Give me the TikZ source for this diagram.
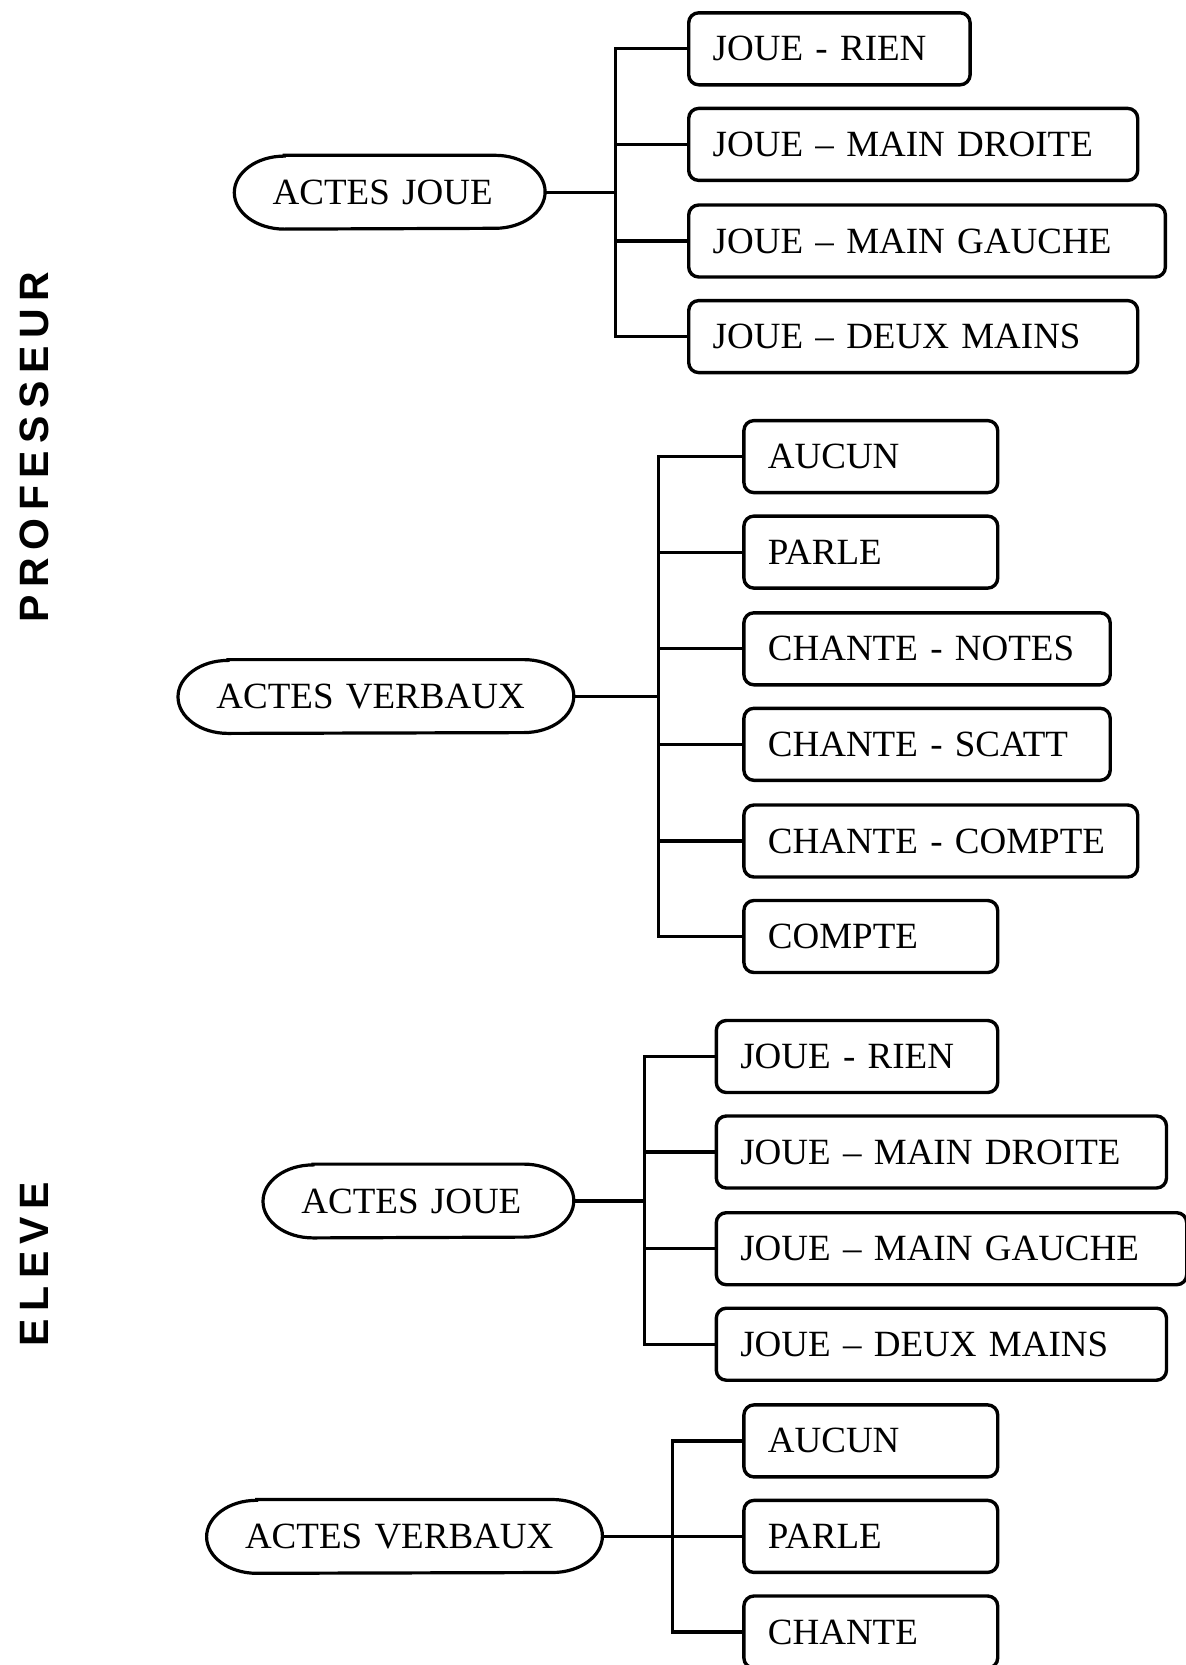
\documentclass[tikz,border=0pt]{standalone}
\usepackage{fontspec}
\setmainfont{Liberation Serif}
\newfontfamily\labelfont{Liberation Sans}
\newcommand\lspc{\kern3.75pt}
\newcommand\pilloutline[1]{%
  \draw[link] ([xshift=25pt]#1.north west) -- ([xshift=-25pt]#1.north east)
    arc[start angle=90,end angle=-90,x radius=25pt,y radius=18.25pt]
    -- ([xshift=25pt]#1.south west)
    arc[start angle=270,end angle=90,x radius=25pt,y radius=18.25pt] -- cycle;}
\begin{document}
\begin{tikzpicture}[x=0.5pt,y=0.5pt,
  txt/.style={font=\fontsize{18.5pt}{22pt}\selectfont},
  box/.style={txt, draw, line width=1.7pt, rounded corners=5pt, anchor=west,
    minimum height=36pt, inner xsep=12pt, inner ysep=0pt, text width=#1, align=left},
  pill/.style={txt, anchor=center, minimum height=36.5pt, inner xsep=19pt,
    inner ysep=0pt, text width=#1, align=left},
  link/.style={line width=1.6pt},
  side/.style={rotate=90, font=\labelfont\bfseries\fontsize{20.5pt}{24pt}\selectfont}
]
\useasboundingbox (0,0) rectangle (1186,-1665);

% side labels
\node[side] (prof) at (34,-447) {P\lspc R\lspc O\lspc F\lspc E\lspc S\lspc S\lspc E\lspc U\lspc R};
\node[side] (elev) at (34,-1264) {E\lspc L\lspc E\lspc V\lspc E};

% ---------- Section 1 : PROFESSEUR / ACTES JOUE
\node[pill=117pt] (a1) at (389.7,-192.2) {ACTES JOUE};
\pilloutline{a1}
\coordinate (j1) at (615.8,-192.2);
\node[box=116.7pt] (b11) at (687,-48.8) {JOUE - RIEN};
\node[box=200.5pt] (b12) at (687,-144.4) {JOUE – MAIN DROITE};
\node[box=214.35pt] (b13) at (687,-241) {JOUE – MAIN GAUCHE};
\node[box=200.5pt] (b14) at (687,-336.6) {JOUE – DEUX MAINS};
\draw[link] (a1.east) -- (j1);
\foreach \b in {b11,b12,b13,b14} \draw[link] (j1) |- (\b.west);

% ---------- Section 2 : PROFESSEUR / ACTES VERBAUX
\node[pill=159.5pt] (a2) at (375.9,-696.5) {ACTES VERBAUX};
\pilloutline{a2}
\coordinate (j2) at (658.3,-696.5);
\node[box=102.9pt] (b21) at (742.2,-456.6) {AUCUN};
\node[box=102.9pt] (b22) at (742.2,-552.1) {PARLE};
\node[box=159.15pt] (b23) at (742.2,-648.8) {CHANTE - NOTES};
\node[box=159.15pt] (b24) at (742.2,-744.3) {CHANTE - SCATT};
\node[box=172.9pt] (b25) at (742.2,-841) {CHANTE - COMPTE};
\node[box=102.9pt] (b26) at (742.2,-936.5) {COMPTE};
\draw[link] (a2.east) -- (j2);
\foreach \b in {b21,b22,b23,b24,b25,b26} \draw[link] (j2) |- (\b.west);

% ---------- Section 3 : ELEVE / ACTES JOUE
\node[pill=117pt] (a3) at (418.4,-1201) {ACTES JOUE};
\pilloutline{a3}
\coordinate (j3) at (644.5,-1201);
\node[box=116.7pt] (b31) at (714.6,-1056.5) {JOUE - RIEN};
\node[box=201.1pt] (b32) at (714.6,-1152) {JOUE – MAIN DROITE};
\node[box=211.2pt] (b33) at (714.6,-1248.7) {JOUE – MAIN GAUCHE};
\node[box=201.1pt] (b34) at (714.6,-1344.2) {JOUE – DEUX MAINS};
\draw[link] (a3.east) -- (j3);
\foreach \b in {b31,b32,b33,b34} \draw[link] (j3) |- (\b.west);

% ---------- Section 4 : ELEVE / ACTES VERBAUX
\node[pill=159.5pt] (a4) at (404.5,-1536.4) {ACTES VERBAUX};
\pilloutline{a4}
\coordinate (j4) at (672.1,-1536.4);
\node[box=102.9pt] (b41) at (742.2,-1440.9) {AUCUN};
\node[box=102.9pt] (b42) at (742.2,-1536.4) {PARLE};
\node[box=102.9pt] (b43) at (742.2,-1632) {CHANTE};
\draw[link] (a4.east) -- (j4);
\foreach \b in {b41,b42,b43} \draw[link] (j4) |- (\b.west);
\end{tikzpicture}
\end{document}
